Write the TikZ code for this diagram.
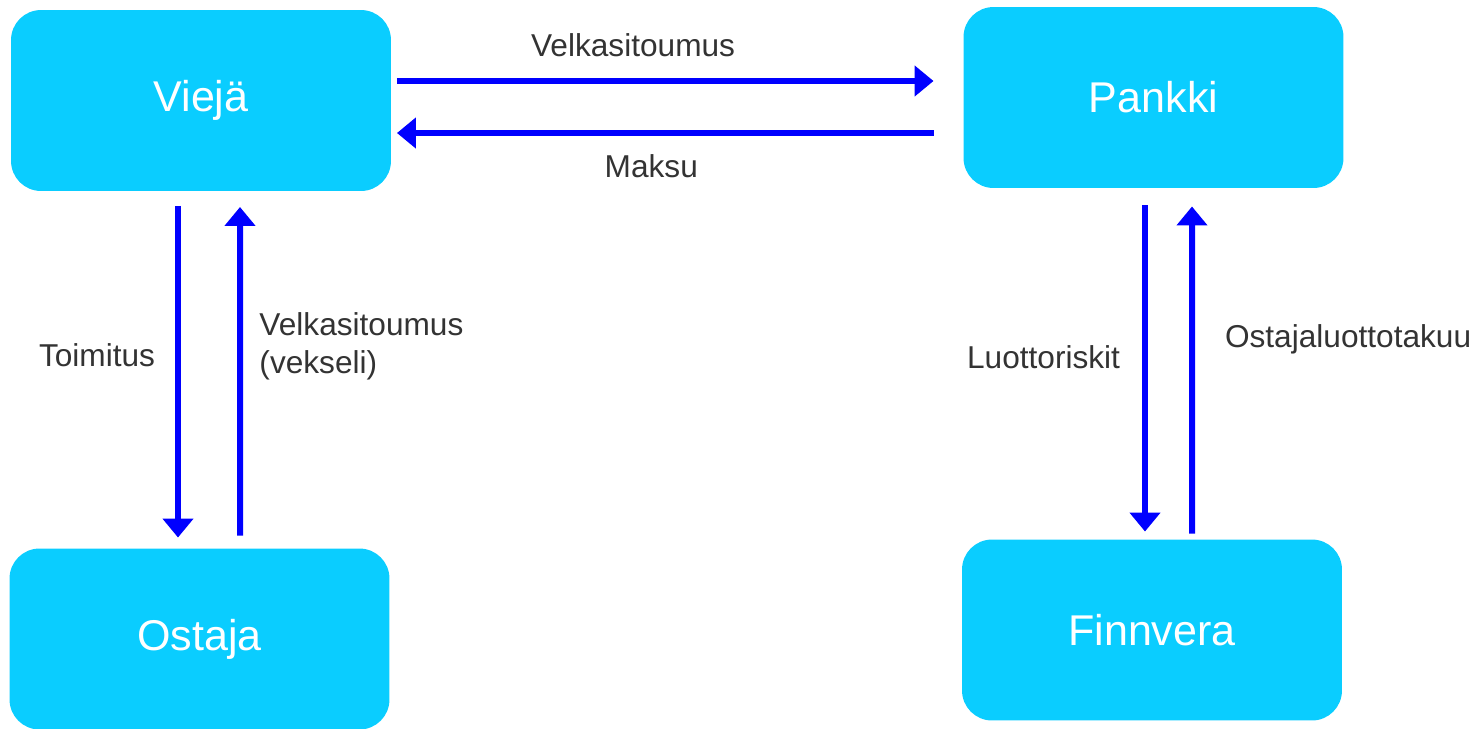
\documentclass[tikz,border=0pt]{standalone}
\usepackage{fontspec}
\setmainfont{Liberation Sans}
\usepackage{tikz}
\usetikzlibrary{positioning}
\usetikzlibrary{arrows,arrows.meta}
\usetikzlibrary{calc}
\definecolor{boxcyan}{RGB}{10,205,255}
\definecolor{flowblue}{RGB}{0,0,255}
\definecolor{labelgrey}{RGB}{51,51,51}
\tikzstyle{party} = [rectangle, rounded corners=0.6cm, fill=boxcyan, draw=none, minimum width=7.6cm, minimum height=3.62cm, outer sep=0pt, text=white, font=\fontsize{24.5}{29}\selectfont]
\tikzstyle{flow} = [draw=flowblue, line width=0.12cm, -{Triangle[width=0.6cm,length=0.38cm]}]
\tikzstyle{lbl} = [text=labelgrey, font=\fontsize{18}{22}\selectfont, inner sep=0pt]

\begin{document}
\begin{tikzpicture}[x=0.02cm, y=-0.02cm]

    \useasboundingbox (0,0) rectangle (1478,728);

    \node[party] (vieja)    at (201,100.5)  {Viejä};
    \node[party] (pankki)   at (1153.5,97.5) {Pankki};
    \node[party] (ostaja)   at (199.5,639)  {Ostaja};
    \node[party] (finnvera) at (1152,630)   {Finnvera};

    % top
    \draw[flow] ($(vieja.east)+(6,-19.5)$) -- node[lbl, pos=.44, yshift=0.72cm] {Velkasitoumus} ($(pankki.west)+(-30,-16.5)$);
    \draw[flow] ($(pankki.west)+(-30,35.5)$) -- node[lbl, pos=.526, yshift=-0.66cm] {Maksu} ($(vieja.east)+(6,32.5)$);

    % left
    \draw[flow] ($(vieja.south)+(-23,15)$) -- node[lbl, pos=.45, left=0.4cm] {Toimitus} ($(ostaja.north)+(-21.5,-11)$);
    \draw[flow] ($(ostaja.north)+(40.5,-13)$) -- node[lbl, pos=.576, right=0.33cm, align=left] {Velkasitoumus\\(vekseli)} ($(vieja.south)+(39,16)$);

    % right
    \draw[flow] ($(pankki.south)+(-8.5,17.5)$) -- node[lbl, pos=.466, left=0.44cm] {Luottoriskit} ($(finnvera.north)+(-7,-8)$);
    \draw[flow] ($(finnvera.north)+(40,-6)$) -- node[lbl, pos=.593, right=0.6cm] {Ostajaluottotakuu} ($(pankki.south)+(38.5,18.5)$);

\end{tikzpicture}
\end{document}
